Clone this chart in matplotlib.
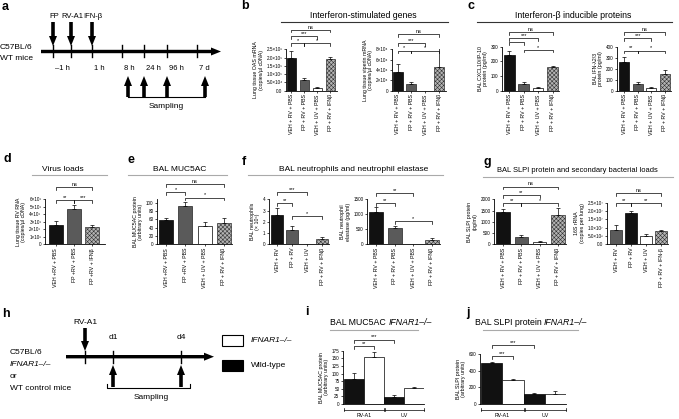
import matplotlib
matplotlib.use('Agg')
import matplotlib.pyplot as plt
from matplotlib.transforms import blended_transform_factory
from matplotlib.patches import FancyArrow, Rectangle

plt.rcParams['font.family'] = ['Liberation Sans', 'DejaVu Sans']
plt.rcParams['hatch.linewidth'] = 0.4
plt.rcParams['axes.linewidth'] = 0.6

# ---------------- DATA ----------------
b_labels = ['VEH + RV + PBS', 'FP + RV + PBS', 'VEH + UV + PBS', 'FP + RV + IFNβ']
oas_mean = [1.95e5, 0.62e5, 0.16e5, 1.9e5]
oas_sem = [0.42e5, 0.15e5, 0.04e5, 0.12e5]
viperin_mean = [3.7e4, 1.3e4, 0.0, 4.6e4]
viperin_sem = [1.5e4, 0.3e4, 0.0, 3.6e4]
cxcl10_mean = [240, 48, 18, 160]
cxcl10_sem = [32, 12, 7, 10]
ifnl_mean = [265, 58, 25, 152]
ifnl_sem = [45, 18, 5, 38]

d_labels = ['VEH +RV + PBS', 'FP +RV + PBS', 'FP +RV + IFNβ']
rv_mean = [2.6e5, 4.7e5, 2.3e5]
rv_sem = [0.5e5, 0.6e5, 0.25e5]

e_labels = ['VEH +RV + PBS', 'FP +RV + PBS', 'VEH + UV + PBS', 'FP + RV + IFNβ']
muc_mean = [58, 93, 45, 51]
muc_sem = [5, 9, 9, 11]

f1_labels = ['VEH + RV', 'FP + RV', 'VEH + UV', 'FP + RV + IFNβ']
neut_mean = [2.6, 1.25, 0.02, 0.45]
neut_sem = [0.65, 0.38, 0.0, 0.2]
ela_mean = [1070, 540, 5, 130]
ela_sem = [160, 60, 0, 70]

slpi_mean = [1430, 340, 100, 1290]
slpi_sem = [150, 60, 30, 340]
g2_labels = ['VEH + RV', 'FP + RV', 'VEH + UV', 'FP + RV + IFN-β']
rrna_mean = [0.88e7, 1.9e7, 0.48e7, 0.82e7]
rrna_sem = [0.3e7, 0.12e7, 0.16e7, 0.03e7]

ko_groups = ['RV-A1', 'UV']
muc_ko_mean = [83, 153, 22, 53]      # WT RV, KO RV, WT UV, KO UV
muc_ko_sem = [19, 19, 8, 3]
slpi_ko_mean = [490, 290, 125, 125]
slpi_ko_sem = [20, 5, 5, 35]

tl_a_events = ['FP', 'RV-A1', 'IFN-β']
tl_a_times = ['–1 h', '1 h', '8 h', '24 h', '96 h', '7 d']

# ---------------- FIGURE ----------------
W, H = 679, 419
fig = plt.figure(figsize=(W / 100, H / 100), dpi=100)

ov = fig.add_axes([0, 0, 1, 1])
ov.set_xlim(0, W)
ov.set_ylim(H, 0)
ov.axis('off')

STY = {
    'black': ('#111111', '#000000', None),
    'dark': ('#5a5a5a', '#222222', None),
    'white': ('#ffffff', '#000000', None),
    'hatch': ('#b4b4b4', '#333333', 'xxxxxxxx'),
}


def add_ax(x0, x1, ytop, ybot):
    return fig.add_axes([x0 / W, 1 - ybot / H, (x1 - x0) / W, (ybot - ytop) / H])


def sig(ax, x1, x2, yf, label, tick=0.06):
    tr = blended_transform_factory(ax.transData, ax.transAxes)
    ax.plot([x1, x1, x2, x2], [yf - tick, yf, yf, yf - tick], color='k', lw=0.5,
            transform=tr, clip_on=False)
    ax.text((x1 + x2) / 2, yf + 0.005, label, transform=tr, ha='center', va='bottom',
            fontsize=4)


def bar_panel(rect, labels, means, sems, styles, ylim, yticks, yticklabels, ylabel,
              sigs, xlim, width=0.72):
    ax = add_ax(*rect)
    xs = list(range(len(means)))
    for xi, m, s, st in zip(xs, means, sems, styles):
        fc, ec, h = STY[st]
        ax.bar(xi, m, width=width, color=fc, edgecolor=ec, hatch=h, lw=0.5, zorder=2)
        if s > 0:
            ax.errorbar(xi, m, yerr=[[0], [s]], fmt='none', ecolor='k', elinewidth=0.5,
                        capsize=1.5, capthick=0.5, zorder=3)
    ax.set_xlim(*xlim)
    ax.set_ylim(*ylim)
    ax.set_yticks(yticks)
    ax.set_yticklabels(yticklabels, fontsize=3.3)
    if labels is not None:
        ax.set_xticks(xs)
        ax.set_xticklabels(labels, rotation=90, fontsize=3.8)
    else:
        ax.set_xticks([])
    ax.tick_params(length=1.5, width=0.5, pad=1)
    ax.set_ylabel(ylabel, fontsize=3.8, labelpad=2, linespacing=1.1)
    for sp in ['top', 'right']:
        ax.spines[sp].set_visible(False)
    ax.patch.set_alpha(0)
    for (a, b, lab, yf) in sigs:
        sig(ax, a, b, yf, lab)
    return ax


# ---- panel b ----
bar_panel((286, 337, 49.3, 90.7), b_labels, oas_mean, oas_sem,
          ['black', 'dark', 'white', 'hatch'], (0, 2.5e5),
          [0, 5e4, 1e5, 1.5e5, 2e5, 2.5e5],
          ['0.0', '5.0×10⁴', '1.0×10⁵', '1.5×10⁵', '2.0×10⁵', '2.5×10⁵'],
          'Lung tissue OAS mRNA\n(copies/µl cDNA)',
          [(0, 1, '*', 1.15), (1, 3, '*', 1.15), (0, 2, '***', 1.32), (0, 3, 'ns', 1.47)],
          (-0.4, 3.5))
bar_panel((392, 446, 49.3, 90.7), b_labels, viperin_mean, viperin_sem,
          ['black', 'dark', 'white', 'hatch'], (0, 8e4),
          [0, 2e4, 4e4, 6e4, 8e4], ['0', '2×10⁴', '4×10⁴', '6×10⁴', '8×10⁴'],
          'Lung tissue viperin mRNA\n(copies/µl cDNA)',
          [(0, 1, '*', 0.97), (1, 3, '*', 0.97), (0, 2, '***', 1.15), (0, 3, 'ns', 1.36)],
          (-0.4, 3.5))

# ---- panel c ----
bar_panel((502, 559, 46.7, 90.7), b_labels, cxcl10_mean, cxcl10_sem,
          ['black', 'dark', 'white', 'hatch'], (0, 300),
          [0, 100, 200, 300], ['0', '100', '200', '300'],
          'BAL CXCL10/IP-10\nprotein (pg/ml)',
          [(1, 3, '*', 0.93), (0, 1, '', 1.1), (0, 2, '***', 1.19), (0, 3, 'ns', 1.33)],
          (-0.5, 3.45), width=0.75)
bar_panel((617, 671, 46.7, 90.7), b_labels, ifnl_mean, ifnl_sem,
          ['black', 'dark', 'white', 'hatch'], (0, 400),
          [0, 100, 200, 300, 400], ['0', '100', '200', '300', '400'],
          'BAL IFN-λ2/3\nprotein (pg/ml)',
          [(0, 1, '**', 0.91), (1, 3, '*', 0.91), (0, 2, '***', 1.2), (0, 3, 'ns', 1.33)],
          (-0.55, 3.45), width=0.75)

# ---- panel d ----
bar_panel((45, 105, 199.3, 244.3), d_labels, rv_mean, rv_sem,
          ['black', 'dark', 'hatch'], (0, 6e5),
          [0, 1e5, 2e5, 3e5, 4e5, 5e5, 6e5],
          ['0', '1×10⁵', '2×10⁵', '3×10⁵', '4×10⁵', '5×10⁵', '6×10⁵'],
          'Lung tissue RV RNA\n(copies/µl cDNA)',
          [(0, 1, '**', 0.98), (1, 2, '***', 0.98), (0, 2, 'ns', 1.27)],
          (-0.6, 2.7), width=0.75)

# ---- panel e ----
bar_panel((157, 232, 199.3, 244.3), e_labels, muc_mean, muc_sem,
          ['black', 'dark', 'white', 'hatch'], (0, 108),
          [0, 20, 40, 60, 80, 100], ['0', '20', '40', '60', '80', '100'],
          'BAL MUC5AC protein\n(arbitrary units)',
          [(0, 1, '*', 1.155), (1, 3, '*', 1.035), (0, 3, 'ns', 1.34)],
          (-0.47, 3.42))

# ---- panel f ----
bar_panel((269, 329, 199.3, 244.3), f1_labels, neut_mean, neut_sem,
          ['black', 'dark', 'white', 'hatch'], (0, 4),
          [0, 1, 2, 3, 4], ['0', '1', '2', '3', '4'],
          'BAL neutrophils\n(× 10⁵)',
          [(0, 1, '**', 0.92), (0, 2, '***', 1.155), (1, 3, '*', 0.63)],
          (-0.55, 3.45), width=0.78)
bar_panel((367, 440, 199.3, 244.3), b_labels, ela_mean, ela_sem,
          ['black', 'dark', 'white', 'hatch'], (0, 1500),
          [0, 500, 1000, 1500], ['0', '500', '1000', '1500'],
          'BAL neutrophil\nelastase (pg/ml)',
          [(0, 1, '**', 0.91), (0, 2, '**', 1.13), (1, 3, '*', 0.52)],
          (-0.5, 3.45), width=0.75)

# ---- panel g ----
bar_panel((494, 566, 199.3, 244.3), b_labels, slpi_mean, slpi_sem,
          ['black', 'dark', 'white', 'hatch'], (0, 2000),
          [0, 500, 1000, 1500, 2000], ['0', '500', '1000', '1500', '2000'],
          'BAL SLPI protein\n(pg/ml)',
          [(0, 1, '**', 0.92), (1, 3, '*', 0.92), (0, 2, '**', 1.095), (0, 3, 'ns', 1.28)],
          (-0.5, 3.45), width=0.75)
bar_panel((607, 668, 202.7, 244.3), g2_labels, rrna_mean, rrna_sem,
          ['dark', 'black', 'white', 'hatch'], (0, 2.5e7),
          [0, 5e6, 1e7, 1.5e7, 2e7, 2.5e7],
          ['0.0', '5.0×10⁶', '1.0×10⁷', '1.5×10⁷', '2.0×10⁷', '2.5×10⁷'],
          '16S rRNA\n(copies per lung)',
          [(0, 1, '**', 0.986), (1, 3, '**', 0.986), (0, 3, 'ns', 1.23)],
          (-0.6, 3.45), width=0.78)


# ---- panels i, j ----
def ko_panel(rect, means, sems, ylim, yticks, ylabel, sigs):
    ax = bar_panel(rect, None, means, sems, ['black', 'white', 'black', 'white'], ylim,
                   yticks, [str(t) for t in yticks], ylabel, sigs, (-0.55, 3.5),
                   width=1.0)
    tr = blended_transform_factory(ax.transData, ax.transAxes)
    for (a, b), g in zip([(-0.5, 1.5), (1.55, 3.5)], ko_groups):
        ax.plot([a, b], [-0.11, -0.11], color='k', lw=0.5, transform=tr, clip_on=False)
        for xx in (a, b):
            ax.plot([xx, xx], [-0.08, -0.14], color='k', lw=0.5, transform=tr,
                    clip_on=False)
        ax.text((a + b) / 2, -0.17, g, transform=tr, ha='center', va='top', fontsize=3.8)
    return ax


ko_panel((343, 424, 350.7, 404), muc_ko_mean, muc_ko_sem, (0, 175),
         [0, 25, 50, 75, 100, 125, 150, 175], 'BAL MUC5AC protein\n(arbitrary units)',
         [(0, 1, '**', 1.09), (0, 2, '***', 1.21)])
ko_panel((480, 566, 354, 404), slpi_ko_mean, slpi_ko_sem, (0, 600),
         [0, 200, 400, 600], 'BAL SLPI protein\n(arbitrary units)',
         [(0, 1, '***', 0.96), (0, 2, '***', 1.18)])

# ---------------- overlay: letters, titles ----------------
for letter, x, y in [('a', 2, 10), ('b', 241, 9), ('c', 468, 9), ('d', 3, 162),
                     ('e', 127, 163), ('f', 242, 165), ('g', 483, 165), ('h', 2, 317),
                     ('i', 305, 315), ('j', 466, 316)]:
    ov.text(x, y, letter, fontsize=9, fontweight='bold', ha='left', va='baseline')


def title(xc, y, txt, x0, x1, yl, fs=6.3, lc='#444444'):
    ov.text(xc, y, txt, fontsize=fs, ha='center', va='center')
    ov.plot([x0, x1], [yl, yl], color=lc, lw=0.8)


title(363, 15, 'Interferon-stimulated genes', 281, 448, 22.5, lc='#333333')
title(573, 15, 'Interferon-β inducible proteins', 477, 672, 22.5, lc='#333333')
title(63, 169, 'Virus loads', 32, 107, 175.5, fs=6, lc='#aaaaaa')
title(180, 169, 'BAL MUC5AC', 128, 227, 175.5, fs=6, lc='#aaaaaa')
title(354, 169, 'BAL neutrophils and neutrophil elastase', 248, 443, 175.5, fs=6,
      lc='#aaaaaa')
title(577, 170, 'BAL SLPI protein and secondary bacterial loads', 483, 673, 177, fs=5.4,
      lc='#aaaaaa')

renderer = fig.canvas.get_renderer()


def mixed_title(xc, y, parts, fs, x0, x1, yl):
    texts, widths = [], []
    for t, st in parts:
        tt = ov.text(0, y, t, fontsize=fs, style=st, ha='left', va='center')
        texts.append(tt)
        widths.append(tt.get_window_extent(renderer=renderer).width)
    gap = 0.28 * fs * 100 / 72
    total = sum(widths) + gap * (len(parts) - 1)
    x = xc - total / 2
    for tt, w in zip(texts, widths):
        tt.set_x(x)
        x += w + gap
    ov.plot([x0, x1], [yl, yl], color='#aaaaaa', lw=0.8)


mixed_title(381, 322, [('BAL MUC5AC', 'normal'), ('IFNAR1–/–', 'italic')], 6.3,
            330, 418, 329.5)
mixed_title(531, 322, [('BAL SLPI protein', 'normal'), ('IFNAR1–/–', 'italic')], 6.3,
            483, 578, 329.5)

# ---------------- timeline a ----------------
fs_tl = 5.5
AW, AHW, AHL = 3.6, 8, 10
ov.add_patch(FancyArrow(41, 51.5, 180, 0, width=3.4, head_width=8, head_length=10,
                        length_includes_head=True, color='k', lw=0))
tick_x = [53, 71, 92, 122, 144, 167, 197]
for tx in tick_x:
    ov.plot([tx, tx], [45.5, 57.5], color='k', lw=1.0)
for ex, lab in zip(tick_x[:3], tl_a_events):
    ov.add_patch(FancyArrow(ex, 22, 0, 24, width=AW, head_width=AHW, head_length=AHL,
                            length_includes_head=True, color='k', lw=0))
    ov.text(ex + 1, 16.5, lab, fontsize=fs_tl, ha='center', va='center')
for tx, lab in zip([tick_x[0]] + tick_x[2:], tl_a_times):
    ov.text(tx + 2, 68, lab, fontsize=fs_tl, ha='left', va='center')
up_x = [128, 144, 167, 205]
for ux in up_x:
    ov.add_patch(FancyArrow(ux, 97, 0, -21, width=AW, head_width=AHW, head_length=AHL,
                            length_includes_head=True, color='k', lw=0))
ov.plot([up_x[0], up_x[-1]], [97, 97], color='k', lw=0.8)
ov.text((up_x[0] + up_x[-1]) / 2, 106.5, 'Sampling', fontsize=6, ha='center', va='center')
ov.text(0, 47.5, 'C57BL/6', fontsize=6, ha='left', va='center')
ov.text(0, 58, 'WT mice', fontsize=6, ha='left', va='center')

# ---------------- timeline h ----------------
ov.add_patch(FancyArrow(66, 356.7, 148, 0, width=3.4, head_width=8, head_length=10,
                        length_includes_head=True, color='k', lw=0))
for tx in [85, 113, 181]:
    ov.plot([tx, tx], [350.5, 363], color='k', lw=1.0)
ov.add_patch(FancyArrow(85, 328, 0, 23, width=AW, head_width=AHW, head_length=AHL,
                        length_includes_head=True, color='k', lw=0))
ov.text(85, 322, 'RV-A1', fontsize=fs_tl + 0.5, ha='center', va='center')
ov.text(113, 337, 'd1', fontsize=fs_tl + 0.5, ha='center', va='center')
ov.text(181.5, 337, 'd4', fontsize=fs_tl + 0.5, ha='center', va='center')
for ux in [113, 181]:
    ov.add_patch(FancyArrow(ux, 387, 0, -22, width=AW, head_width=AHW, head_length=AHL,
                            length_includes_head=True, color='k', lw=0))
ov.plot([107, 107, 190, 190], [384, 387.5, 387.5, 384], color='k', lw=0.8)
ov.text(151, 397.5, 'Sampling', fontsize=6, ha='center', va='center')
ov.text(10, 352, 'C57BL/6', fontsize=6, ha='left', va='center')
ov.text(10, 364.5, 'IFNAR1–/–', fontsize=6, style='italic', ha='left', va='center')
ov.text(10, 376.5, 'or', fontsize=6, ha='left', va='center')
ov.text(10, 388.5, 'WT control mice', fontsize=6, ha='left', va='center')
ov.add_patch(Rectangle((222, 335), 21, 11, facecolor='white', edgecolor='k', lw=0.8))
ov.add_patch(Rectangle((222, 359.5), 21, 11, facecolor='black', edgecolor='k', lw=0.8))
ov.text(251, 340.5, 'IFNAR1–/–', fontsize=6, style='italic', ha='left', va='center')
ov.text(251, 365, 'Wild-type', fontsize=6, ha='left', va='center')

fig.savefig('out.png', dpi=100)
